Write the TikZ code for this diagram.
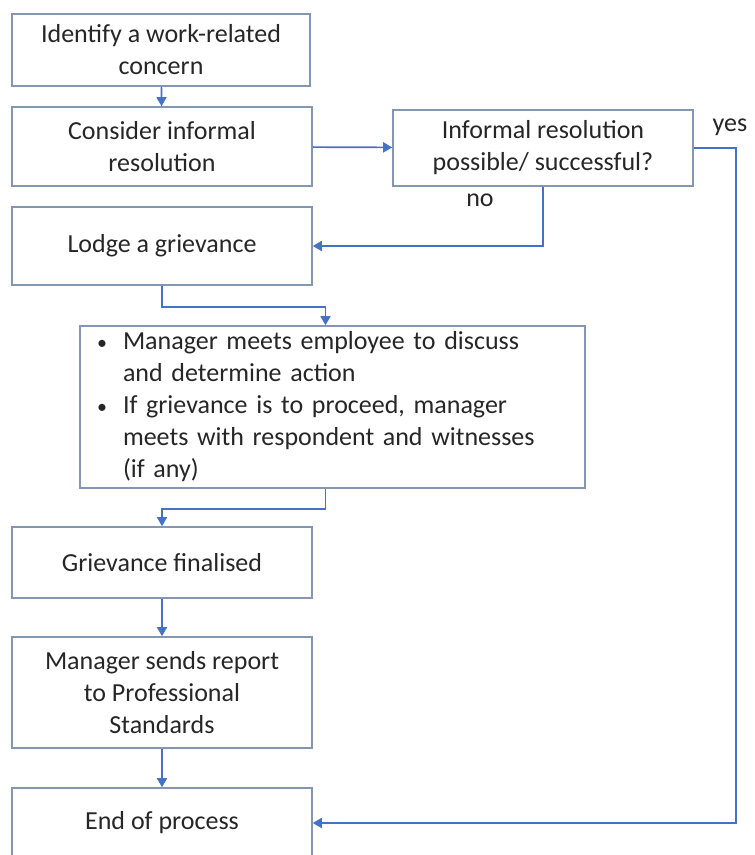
\documentclass[tikz,border=0pt]{standalone}
\usepackage{fontspec}
\setmainfont{Carlito}
\usetikzlibrary{positioning}
\usetikzlibrary{arrows.meta}
\definecolor{flowblue}{HTML}{4472C4}
\definecolor{boxgrey}{HTML}{8496B0}
\definecolor{txtgrey}{HTML}{262626}
\newcommand{\bulitem}{\makebox[26pt][l]{\fontsize{20}{20}\selectfont\textbullet}}
\newcommand{\bulgap}{\hspace*{26pt}}
\tikzset{>={Triangle[length=9pt,width=10pt]}}
\tikzset{stepbox/.style 2 args={draw=boxgrey, line width=1.6pt, rectangle, align=center, inner sep=0pt,
  minimum width=#1pt, minimum height=#2pt, text=txtgrey, font=\fontsize{26}{32}\selectfont}}
\tikzset{link/.style={flowblue, line width=1.7pt}}
\tikzset{lbl/.style={text=txtgrey, font=\fontsize{26}{32}\selectfont, inner sep=0pt}}

\begin{document}
\begin{tikzpicture}[x=1pt,y=-1pt]
\useasboundingbox (0,0) rectangle (755,855);

\node[stepbox={298}{72}] (concern) at (161,50) {Identify a work-related\\concern};
\node[stepbox={300}{79}] (consider) at (162,146.5) {Consider informal\\resolution};
\node[stepbox={300}{76}] (check) at (543,148) {Informal resolution\\possible/ successful?};
\node[stepbox={300}{78}] (lodge) at (162,246) {Lodge a grievance};
\node[stepbox={505}{162}, align=left, text width=471pt, inner xsep=17pt] (meet) at (332.5,407)
  {\bulitem Manager meets employee to discuss\\
   \bulgap and determine action\\
   \bulitem If grievance is to proceed, manager\\
   \bulgap meets with respondent and witnesses\\
   \bulgap (if any)};
\node[stepbox={300}{71}] (final) at (162,562.5) {Grievance finalised};
\node[stepbox={300}{111}] (report) at (162,692.5) {Manager sends report\\to Professional\\Standards};
\node[stepbox={300}{70}] (end) at (162,823) {End of process};

\node[lbl] (yes) at (730,127) {yes};
\node[lbl] (no) at (480,200) {no};

\draw[link,->] (concern) -- (consider);
\draw[link,->] (consider) -- (check);
\draw[link,->] (check.south) |- (lodge.east);
\draw[link,->] (check.east) -- ++(42,0) |- (end.east);
\draw[link,->] (lodge.south) -- ++(0,21) -| ([xshift=-7pt]meet.north);
\draw[link,->] ([xshift=-7pt]meet.south) -- ++(0,20) -| (final.north);
\draw[link,->] (final) -- (report);
\draw[link,->] (report) -- (end);

\end{tikzpicture}
\end{document}
